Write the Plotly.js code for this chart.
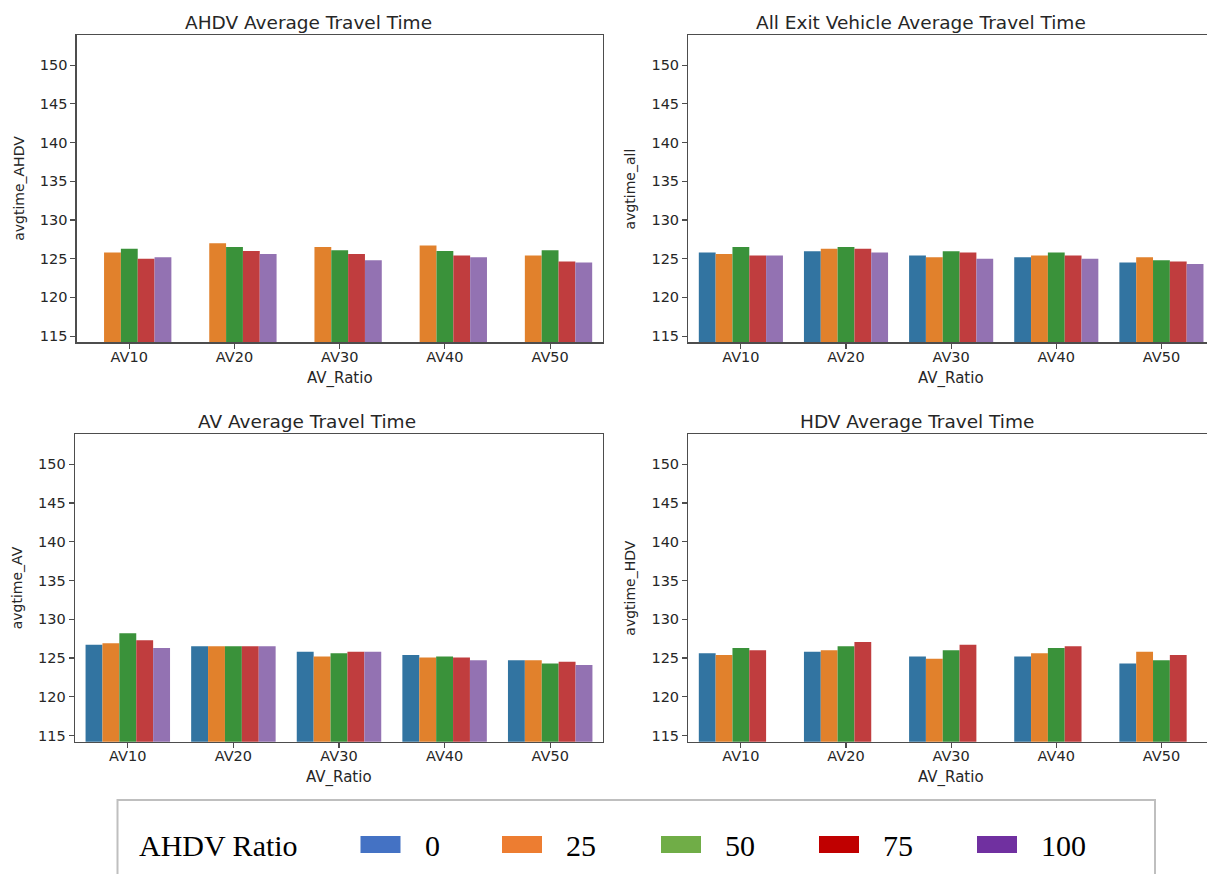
<!DOCTYPE html>
<html>
<head>
<meta charset="utf-8">
<script src="https://cdn.plot.ly/plotly-3.0.1.min.js"></script>
<style>html,body{margin:0;padding:0;background:#fff;}#chart{width:1207px;height:874px;}</style>
</head>
<body>
<div id="chart"></div>
<script>
// ---------- data ----------
const categories = ['AV10', 'AV20', 'AV30', 'AV40', 'AV50'];
const seriesNames = ['0', '25', '50', '75', '100'];
const yTicks = [115, 120, 125, 130, 135, 140, 145, 150];

// AHDV average travel time (no AHDV at ratio 0)
const ahdv0   = [null, null, null, null, null];
const ahdv25  = [125.8, 127.0, 126.5, 126.7, 125.4];
const ahdv50  = [126.3, 126.5, 126.1, 126.0, 126.1];
const ahdv75  = [125.0, 126.0, 125.6, 125.4, 124.65];
const ahdv100 = [125.2, 125.6, 124.8, 125.2, 124.5];

// All exit vehicle average travel time
const all0   = [125.8, 125.95, 125.4, 125.2, 124.5];
const all25  = [125.6, 126.3, 125.2, 125.4, 125.2];
const all50  = [126.5, 126.5, 125.95, 125.8, 124.8];
const all75  = [125.4, 126.3, 125.8, 125.4, 124.65];
const all100 = [125.4, 125.8, 125.0, 125.0, 124.3];

// AV average travel time
const av0   = [126.7, 126.5, 125.8, 125.4, 124.7];
const av25  = [126.9, 126.5, 125.2, 125.05, 124.7];
const av50  = [128.2, 126.5, 125.6, 125.2, 124.3];
const av75  = [127.3, 126.5, 125.8, 125.05, 124.5];
const av100 = [126.3, 126.5, 125.8, 124.7, 124.1];

// HDV average travel time (no HDV at ratio 100)
const hdv0   = [125.6, 125.8, 125.2, 125.2, 124.3];
const hdv25  = [125.4, 126.0, 124.9, 125.6, 125.8];
const hdv50  = [126.3, 126.5, 126.0, 126.3, 124.7];
const hdv75  = [126.0, 127.05, 126.7, 126.5, 125.4];
const hdv100 = [null, null, null, null, null];

const panelTitles = ['AHDV Average Travel Time', 'All Exit Vehicle Average Travel Time',
                     'AV Average Travel Time', 'HDV Average Travel Time'];
const yLabels = ['avgtime_AHDV', 'avgtime_all', 'avgtime_AV', 'avgtime_HDV'];
const xLabel = 'AV_Ratio';
const legendTitle = 'AHDV Ratio';

// ---------- styling ----------
const barColors = ['#3274a1', '#e1812c', '#3a923a', '#c03d3e', '#9372b2'];
const legendColors = ['#4472c4', '#ed7d31', '#70ad47', '#c00000', '#7030a0'];
const W = 1207, H = 874;
const px = v => v / W;
const py = v => 1 - v / H;

const panels = [
  {series: [ahdv0, ahdv25, ahdv50, ahdv75, ahdv100], x: [76.7, 602.7], y: [35, 342.3], range: [-0.5, 4.5], mirror: true},
  {series: [all0, all25, all50, all75, all100],       x: [688.3, 1207], y: [35, 342.3], range: [-0.5, 4.5 - 7 / 105.2], mirror: false},
  {series: [av0, av25, av50, av75, av100],            x: [75, 603],     y: [434, 741.7], range: [-0.5, 4.5], mirror: true},
  {series: [hdv0, hdv25, hdv50, hdv75, hdv100],       x: [688.3, 1207], y: [434, 741.7], range: [-0.5, 4.5 - 7 / 105.2], mirror: false}
];

const traces = [];
const layout = {
  width: W, height: H,
  margin: {l: 0, r: 0, t: 0, b: 0},
  paper_bgcolor: '#ffffff', plot_bgcolor: '#ffffff',
  barmode: 'group', bargap: 0.2, bargroupgap: 0,
  showlegend: false,
  font: {family: 'DejaVu Sans', color: '#262626', size: 14},
  annotations: [], shapes: []
};

panels.forEach((p, i) => {
  const n = i === 0 ? '' : String(i + 1);
  p.series.forEach((vals, k) => {
    traces.push({
      type: 'bar', x: categories, y: vals, name: seriesNames[k],
      marker: {color: barColors[k], line: {width: 0}},
      xaxis: 'x' + n, yaxis: 'y' + n, hoverinfo: 'skip'
    });
  });
  layout['xaxis' + n] = {
    domain: [px(p.x[0]), px(p.x[1])], anchor: 'y' + n,
    type: 'category', range: p.range, fixedrange: true,
    showline: true, linecolor: '#4d4d4d', linewidth: 1.3, mirror: true,
    ticks: 'outside', ticklen: 5, tickcolor: '#4d4d4d', tickwidth: 1.1,
    ticklabelstandoff: -4,
    showgrid: false, zeroline: false,
    tickfont: {family: 'DejaVu Sans', size: 14.5, color: '#262626'}
  };
  layout['yaxis' + n] = {
    domain: [py(p.y[1]), py(p.y[0])], anchor: 'x' + n,
    range: [114.2, 153.9], fixedrange: true,
    tickvals: yTicks, ticktext: yTicks.map(String),
    showline: true, linecolor: '#4d4d4d', linewidth: 1.3, mirror: p.mirror,
    ticks: 'outside', ticklen: 5, tickcolor: '#4d4d4d', tickwidth: 1.1,
    showgrid: false, zeroline: false,
    tickfont: {family: 'DejaVu Sans', size: 14.5, color: '#262626'}
  };
  // panel title
  const titleX = [308, 921, 307, 917][i];
  const titleY = [22, 22, 421, 421][i];
  layout.annotations.push({
    xref: 'paper', yref: 'paper', x: px(titleX), y: py(titleY),
    text: panelTitles[i], showarrow: false, xanchor: 'center', yanchor: 'middle',
    font: {family: 'DejaVu Sans', size: 18.5, color: '#262626'}
  });
  // x axis title
  layout.annotations.push({
    xref: 'paper', yref: 'paper', x: px((p.x[0] + (i % 2 ? 1214 : p.x[1])) / 2), y: py(p.y[1] + 36),
    text: xLabel, showarrow: false, xanchor: 'center', yanchor: 'middle',
    font: {family: 'DejaVu Sans', size: 15, color: '#262626'}
  });
  // y axis title
  layout.annotations.push({
    xref: 'paper', yref: 'paper', x: px(p.x[0] - 58.5), y: py((p.y[0] + p.y[1]) / 2),
    text: yLabels[i], showarrow: false, xanchor: 'center', yanchor: 'middle', textangle: -90,
    font: {family: 'DejaVu Sans', size: 14, color: '#262626'}
  });
});

// ---------- custom legend (box below the panels) ----------
layout.shapes.push({
  type: 'rect', xref: 'paper', yref: 'paper',
  x0: px(117.5), x1: px(1155), y0: py(890), y1: py(800),
  line: {color: '#bfbfbf', width: 2}, fillcolor: 'rgba(0,0,0,0)'
});
layout.annotations.push({
  xref: 'paper', yref: 'paper', x: px(137), y: py(845),
  text: legendTitle, showarrow: false, xanchor: 'left', yanchor: 'middle',
  font: {family: 'Liberation Serif', size: 30, color: '#000000'}
});
const swatchX = [360.5, 502, 661, 819, 977];
seriesNames.forEach((s, k) => {
  layout.shapes.push({
    type: 'rect', xref: 'paper', yref: 'paper',
    x0: px(swatchX[k]), x1: px(swatchX[k] + 40), y0: py(853), y1: py(836),
    line: {width: 0}, fillcolor: legendColors[k]
  });
  layout.annotations.push({
    xref: 'paper', yref: 'paper', x: px(swatchX[k] + 62), y: py(845),
    text: s, showarrow: false, xanchor: 'left', yanchor: 'middle',
    font: {family: 'Liberation Serif', size: 30, color: '#000000'}
  });
});

Plotly.newPlot('chart', traces, layout, {staticPlot: true, displayModeBar: false});
</script>
</body>
</html>
